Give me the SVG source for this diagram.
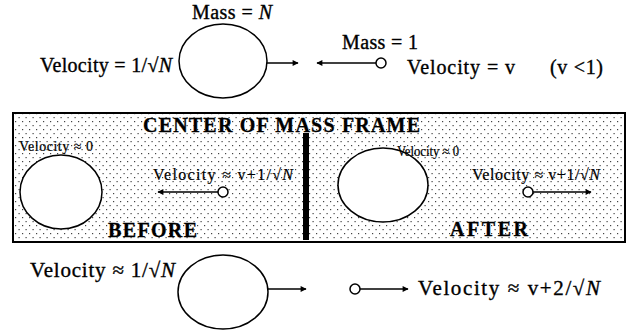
<svg xmlns="http://www.w3.org/2000/svg" width="631" height="332" viewBox="0 0 631 332">
<defs>
<pattern id="dots" width="7" height="8" patternUnits="userSpaceOnUse">
<rect x="1" y="1" width="1.2" height="1.2" fill="#444"/>
<rect x="4.5" y="5" width="1.2" height="1.2" fill="#444"/>
</pattern>
<marker id="ah" viewBox="0 0 10 10" refX="9" refY="5" markerWidth="8" markerHeight="6" markerUnits="userSpaceOnUse" orient="auto">
<path d="M0,0 L10,5 L0,10 Z" fill="#000"/>
</marker>
</defs>
<style>
.t{font-family:"Liberation Serif","Times New Roman",serif;fill:#000;stroke:#000;stroke-width:0.35;}
.big{font-size:20px;}
.bot{font-size:21px;}
.sm{font-size:14px;stroke-width:0.2;}
.md{font-size:16px;stroke-width:0.2;}
.hd{font-size:20px;font-weight:bold;stroke-width:0.3;}
.bl{fill:#fff;stroke:#000;stroke-width:1.5;}
.sc{fill:#fff;stroke:#000;stroke-width:1.5;}
.ln{stroke:#000;stroke-width:1.5;fill:none;marker-end:url(#ah);}
</style>
<rect width="631" height="332" fill="#fff"/>
<g id="frame">
<rect x="13" y="113" width="612" height="129" fill="url(#dots)" stroke="#000" stroke-width="2"/>
<rect x="303" y="133" width="6" height="107" fill="#000"/>
<text class="t hd" x="143" y="132" textLength="277" lengthAdjust="spacing">CENTER OF MASS FRAME</text>
<text class="t hd" x="108" y="237" textLength="89" lengthAdjust="spacing">BEFORE</text>
<text class="t hd" x="450" y="236" textLength="78" lengthAdjust="spacing">AFTER</text>
</g>
<g id="top-big">
<ellipse class="bl" cx="223" cy="61" rx="44" ry="37"/>
<text class="t big" x="192" y="19" textLength="80" lengthAdjust="spacing">Mass = <tspan font-style="italic">N</tspan></text>
<text class="t big" x="40" y="72" textLength="132" lengthAdjust="spacing">Velocity = 1/√<tspan font-style="italic">N</tspan></text>
</g>
<g id="top-small">
<circle class="sc" cx="381" cy="63" r="5"/>
<text class="t big" x="342" y="49" textLength="76" lengthAdjust="spacing">Mass = 1</text>
<text class="t big" x="407" y="74" textLength="108" lengthAdjust="spacing">Velocity = v</text>
<text class="t big" x="550" y="74" textLength="53" lengthAdjust="spacing">(v &lt;1)</text>
</g>
<g id="before-big">
<ellipse class="bl" cx="61" cy="192" rx="41" ry="37"/>
<text class="t sm" x="19" y="151" textLength="74" lengthAdjust="spacing">Velocity ≈ 0</text>
</g>
<g id="before-small">
<circle class="sc" cx="223" cy="192" r="5"/>
<text class="t md" x="153" y="180" textLength="140" lengthAdjust="spacing">Velocity ≈ v+1/√<tspan font-style="italic">N</tspan></text>
</g>
<g id="after-big">
<ellipse class="bl" cx="383" cy="185" rx="45" ry="37"/>
<text class="t sm" x="397" y="156" textLength="62" lengthAdjust="spacingAndGlyphs">Velocity ≈ 0</text>
</g>
<g id="after-small">
<circle class="sc" cx="528" cy="192" r="5"/>
<text class="t md" x="472" y="180" textLength="128" lengthAdjust="spacing">Velocity ≈ v+1/√<tspan font-style="italic">N</tspan></text>
</g>
<g id="bottom-big">
<ellipse class="bl" cx="223" cy="292" rx="45" ry="37"/>
<text class="t bot" x="30" y="277" textLength="145" lengthAdjust="spacing">Velocity ≈ 1/√<tspan font-style="italic">N</tspan></text>
</g>
<g id="bottom-small">
<circle class="sc" cx="355" cy="289" r="5"/>
<text class="t bot" x="418" y="295" textLength="182" lengthAdjust="spacing">Velocity ≈ v+2/√<tspan font-style="italic">N</tspan></text>
</g>
<g id="connectors">
<line class="ln" x1="267" y1="63" x2="298" y2="63"/>
<line class="ln" x1="376" y1="63" x2="317" y2="63"/>
<line class="ln" x1="218" y1="192" x2="158" y2="192"/>
<line class="ln" x1="533" y1="192" x2="591" y2="192"/>
<line class="ln" x1="268" y1="289" x2="306" y2="289"/>
<line class="ln" x1="360" y1="289" x2="408" y2="289"/>
</g>
</svg>
